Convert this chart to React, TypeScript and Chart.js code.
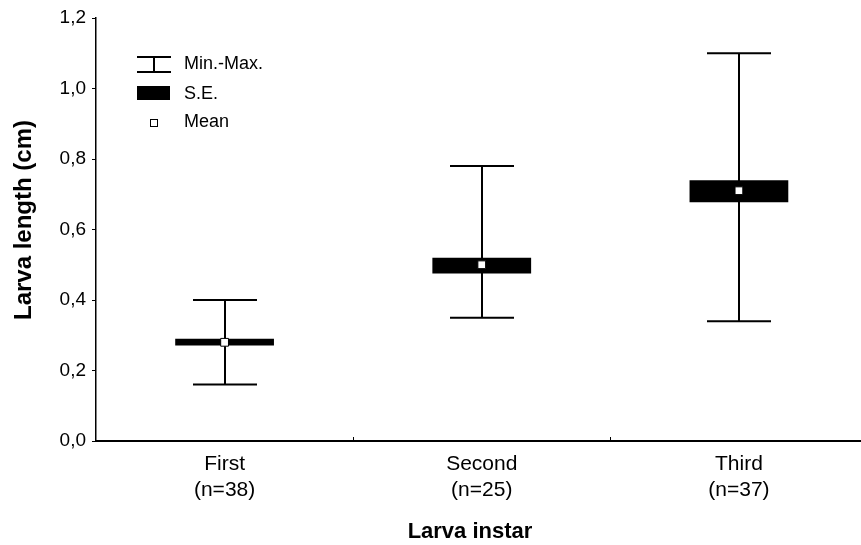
import { useEffect, useRef } from 'react';
import { Chart, registerables } from 'chart.js';

Chart.register(...registerables);

const categories = [['First', '(n=38)'], ['Second', '(n=25)'], ['Third', '(n=37)']];
const minValues = [0.16, 0.35, 0.34];
const maxValues = [0.40, 0.78, 1.10];
const seLow = [0.271, 0.475, 0.677];
const seHigh = [0.290, 0.520, 0.740];
const means = [0.28, 0.50, 0.71];
const yTickLabels = ['0,0', '0,2', '0,4', '0,6', '0,8', '1,0', '1,2'];
const yAxisTitle = 'Larva length (cm)';
const xAxisTitle = 'Larva instar';
const legendLabels = ['Min.-Max.', 'S.E.', 'Mean'];

const FONT = '"Liberation Sans", Arial, Helvetica, sans-serif';

const whiskerPlugin = {
  id: 'whiskers',
  beforeDatasetsDraw(chart: any) {
    const { ctx, scales } = chart;
    const x = scales.x;
    const y = scales.y;
    ctx.save();
    ctx.strokeStyle = '#000';
    ctx.lineWidth = 2;
    const capHalf = 32;
    minValues.forEach((mn, i) => {
      const px = Math.round(x.getPixelForValue(i));
      const y1 = y.getPixelForValue(mn);
      const y2 = y.getPixelForValue(maxValues[i]);
      ctx.beginPath();
      ctx.moveTo(px, y1);
      ctx.lineTo(px, y2);
      ctx.moveTo(px - capHalf, y1);
      ctx.lineTo(px + capHalf, y1);
      ctx.moveTo(px - capHalf, y2);
      ctx.lineTo(px + capHalf, y2);
      ctx.stroke();
    });
    ctx.restore();
  },
};

const decorPlugin = {
  id: 'decor',
  afterDraw(chart: any) {
    const { ctx } = chart;
    ctx.save();
    // Legend
    ctx.strokeStyle = '#000';
    ctx.lineWidth = 2;
    ctx.beginPath();
    ctx.moveTo(154, 57);
    ctx.lineTo(154, 72);
    ctx.moveTo(137, 57);
    ctx.lineTo(171, 57);
    ctx.moveTo(137, 72);
    ctx.lineTo(171, 72);
    ctx.stroke();
    ctx.fillStyle = '#000';
    ctx.fillRect(137, 86, 33, 14);
    ctx.fillStyle = '#fff';
    ctx.fillRect(150, 119, 8, 8);
    ctx.lineWidth = 1;
    ctx.strokeRect(150.5, 119.5, 7, 7);
    ctx.fillStyle = '#000';
    ctx.font = `18px ${FONT}`;
    ctx.textAlign = 'left';
    ctx.textBaseline = 'middle';
    ctx.fillText(legendLabels[0], 184, 64.5);
    ctx.fillText(legendLabels[1], 184, 94);
    ctx.fillText(legendLabels[2], 184, 122.5);

    // Axis titles
    ctx.font = `bold 24px ${FONT}`;
    ctx.textAlign = 'center';
    ctx.textBaseline = 'middle';
    ctx.save();
    ctx.translate(24, 220);
    ctx.rotate(-Math.PI / 2);
    ctx.fillText(yAxisTitle, 0, 0);
    ctx.restore();
    ctx.font = `bold 22px ${FONT}`;
    ctx.textBaseline = 'alphabetic';
    ctx.fillText(xAxisTitle, 470, 538);
    ctx.restore();
  },
};

export default function App() {
  const ref = useRef<HTMLCanvasElement | null>(null);

  useEffect(() => {
    if (!ref.current) return;
    const chart = new Chart(ref.current, {
      type: 'bar',
      data: {
        labels: categories as any,
        datasets: [
          {
            type: 'bar',
            label: 'S.E.',
            data: seLow.map((l, i) => [l, seHigh[i]]) as any,
            backgroundColor: '#000',
            borderWidth: 0,
            barPercentage: 0.384,
            categoryPercentage: 1,
            order: 1,
          },
          {
            type: 'line',
            label: 'Mean',
            data: means,
            showLine: false,
            pointStyle: 'rect',
            pointRadius: 5.5,
            pointBackgroundColor: '#fff',
            pointBorderColor: '#000',
            pointBorderWidth: 1,
            order: 0,
          } as any,
        ],
      },
      options: {
        responsive: false,
        animation: false,
        layout: { padding: { top: 18, right: 0, left: 0, bottom: 0 } },
        plugins: { legend: { display: false }, tooltip: { enabled: false } },
        scales: {
          x: {
            offset: true,
            grid: {
              display: true,
              offset: true,
              drawOnChartArea: false,
              drawTicks: true,
              tickLength: -4,
              color: '#000',
              lineWidth: 1,
            },
            border: { display: true, color: '#000', width: 2 },
            ticks: {
              color: '#000',
              font: { family: FONT, size: 21, lineHeight: 1.25 },
              padding: 14,
              maxRotation: 0,
              autoSkip: false,
            },
            afterFit: (s: any) => {
              s.height = 104;
            },
          },
          y: {
            min: 0,
            max: 1.2,
            grid: {
              display: true,
              drawOnChartArea: false,
              drawTicks: true,
              tickLength: 4,
              color: '#000',
              lineWidth: 1,
            },
            border: { display: true, color: '#000', width: 1.5 },
            ticks: {
              stepSize: 0.2,
              color: '#000',
              font: { family: FONT, size: 19 },
              padding: 6,
              callback: (_v: any, i: number) => yTickLabels[i],
            },
            afterFit: (s: any) => {
              s.width = 96;
            },
          },
        },
      },
      plugins: [whiskerPlugin, decorPlugin],
    });
    return () => chart.destroy();
  }, []);

  return (
    <div
      style={{
        position: 'fixed',
        left: 0,
        top: 0,
        width: 861,
        height: 545,
        overflow: 'hidden',
        background: '#fff',
      }}
    >
      <canvas ref={ref} width={874} height={545} style={{ width: 874, height: 545, display: 'block' }} />
    </div>
  );
}
